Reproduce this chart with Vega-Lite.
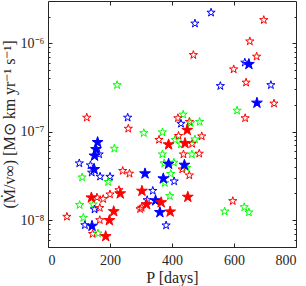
{
  "$schema": "https://vega.github.io/schema/vega-lite/v6.json",
  "width": 248,
  "height": 246,
  "autosize": {"type": "none"},
  "padding": {"left": 48, "top": 1, "right": 10, "bottom": 39},
  "background": "white",
  "config": {
    "view": {"stroke": "#262626", "strokeWidth": 1},
    "axis": {
      "domain": false, "grid": false,
      "labelFont": "Liberation Serif", "titleFont": "Liberation Serif",
      "labelFontSize": 14, "titleFontSize": 16,
      "labelColor": "#262626", "titleColor": "#262626",
      "titleFontWeight": "normal", "tickColor": "#262626", "tickWidth": 1
    }
  },
  "data": {"values": [
    {"p":526,"v":2.22e-6,"c":"b","f":0},{"p":474,"v":1.67e-6,"c":"b","f":0},{"p":696,"v":1.83e-6,"c":"r","f":0},
    {"p":651,"v":1.05e-6,"c":"r","f":0},{"p":469,"v":7.36e-7,"c":"r","f":0},{"p":635,"v":6.04e-7,"c":"b","f":0},
    {"p":673,"v":7.06e-7,"c":"r","f":0},{"p":599,"v":5.07e-7,"c":"r","f":0},{"p":639,"v":3.59e-7,"c":"r","f":0},
    {"p":556,"v":3.28e-7,"c":"b","f":0},{"p":719,"v":3.36e-7,"c":"b","f":0},{"p":729,"v":2.08e-7,"c":"r","f":0},
    {"p":610,"v":1.73e-7,"c":"g","f":0},{"p":636,"v":1.42e-7,"c":"r","f":0},{"p":223,"v":3.36e-7,"c":"g","f":0},
    {"p":125,"v":1.44e-7,"c":"r","f":0},{"p":257,"v":1.44e-7,"c":"b","f":0},{"p":259,"v":1.08e-7,"c":"r","f":0},
    {"p":309,"v":9.64e-8,"c":"g","f":0},{"p":436,"v":1.56e-7,"c":"g","f":0},{"p":419,"v":1.42e-7,"c":"r","f":0},
    {"p":429,"v":1.23e-7,"c":"b","f":0},{"p":456,"v":1.29e-7,"c":"r","f":0},{"p":460,"v":1.25e-7,"c":"g","f":0},
    {"p":489,"v":1.29e-7,"c":"g","f":0},{"p":369,"v":9.82e-8,"c":"g","f":0},{"p":358,"v":8.08e-8,"c":"r","f":0},
    {"p":410,"v":8.08e-8,"c":"g","f":0},{"p":421,"v":8.96e-8,"c":"r","f":0},{"p":429,"v":7.18e-8,"c":"g","f":0},
    {"p":465,"v":7.28e-8,"c":"r","f":0},{"p":474,"v":8.18e-8,"c":"g","f":0},{"p":496,"v":8.85e-8,"c":"r","f":0},
    {"p":369,"v":5.53e-8,"c":"g","f":0},{"p":437,"v":5.53e-8,"c":"r","f":0},{"p":464,"v":5.53e-8,"c":"g","f":0},
    {"p":488,"v":5.64e-8,"c":"r","f":0},{"p":375,"v":4.38e-8,"c":"g","f":0},{"p":406,"v":4.46e-8,"c":"g","f":0},
    {"p":447,"v":3.91e-8,"c":"g","f":0},{"p":433,"v":3.74e-8,"c":"r","f":0},{"p":456,"v":3.20e-8,"c":"r","f":0},
    {"p":396,"v":3.33e-8,"c":"g","f":0},{"p":377,"v":2.63e-8,"c":"g","f":0},{"p":407,"v":2.74e-8,"c":"b","f":0},
    {"p":338,"v":2.14e-8,"c":"b","f":0},{"p":393,"v":1.87e-8,"c":"g","f":0},{"p":320,"v":1.68e-8,"c":"b","f":0},
    {"p":302,"v":1.38e-8,"c":"r","f":0},{"p":381,"v":8.70e-9,"c":"b","f":0},{"p":596,"v":1.64e-8,"c":"r","f":0},
    {"p":570,"v":1.25e-8,"c":"g","f":0},{"p":633,"v":1.40e-8,"c":"g","f":0},{"p":648,"v":1.22e-8,"c":"g","f":0},
    {"p":214,"v":6.42e-8,"c":"g","f":0},{"p":165,"v":5.53e-8,"c":"b","f":0},{"p":101,"v":4.38e-8,"c":"b","f":0},
    {"p":137,"v":4.16e-8,"c":"b","f":0},{"p":141,"v":3.44e-8,"c":"b","f":0},{"p":110,"v":3.04e-8,"c":"g","f":0},
    {"p":168,"v":3.10e-8,"c":"b","f":0},{"p":200,"v":3.09e-8,"c":"b","f":0},{"p":194,"v":2.70e-8,"c":"g","f":0},
    {"p":241,"v":3.60e-8,"c":"r","f":0},{"p":263,"v":3.35e-8,"c":"r","f":0},{"p":229,"v":2.18e-8,"c":"r","f":0},
    {"p":158,"v":1.80e-8,"c":"r","f":0},{"p":178,"v":1.73e-8,"c":"r","f":0},{"p":200,"v":1.95e-8,"c":"r","f":0},
    {"p":102,"v":1.48e-8,"c":"g","f":0},{"p":146,"v":1.50e-8,"c":"g","f":0},{"p":150,"v":1.32e-8,"c":"b","f":0},
    {"p":167,"v":1.37e-8,"c":"r","f":0},{"p":297,"v":1.33e-8,"c":"r","f":0},{"p":61,"v":1.09e-8,"c":"r","f":0},
    {"p":114,"v":1.06e-8,"c":"g","f":0},{"p":167,"v":9.98e-9,"c":"r","f":0},{"p":119,"v":8.75e-9,"c":"b","f":0},
    {"p":144,"v":6.97e-9,"c":"r","f":0},{"p":161,"v":7.06e-9,"c":"g","f":0},
    {"p":648,"v":5.78e-7,"c":"b","f":1},{"p":674,"v":2.11e-7,"c":"b","f":1},{"p":449,"v":1.04e-7,"c":"r","f":1},
    {"p":389,"v":7.13e-8,"c":"r","f":1},{"p":442,"v":7.38e-8,"c":"r","f":1},{"p":389,"v":4.30e-8,"c":"b","f":1},
    {"p":440,"v":4.19e-8,"c":"b","f":1},{"p":313,"v":3.35e-8,"c":"b","f":1},{"p":372,"v":2.94e-8,"c":"b","f":1},
    {"p":303,"v":2.13e-8,"c":"r","f":1},{"p":451,"v":1.82e-8,"c":"r","f":1},{"p":347,"v":1.66e-8,"c":"b","f":1},
    {"p":365,"v":1.58e-8,"c":"r","f":1},{"p":318,"v":1.50e-8,"c":"r","f":1},{"p":361,"v":1.22e-8,"c":"b","f":1},
    {"p":394,"v":1.24e-8,"c":"r","f":1},{"p":160,"v":7.57e-8,"c":"b","f":1},{"p":155,"v":6.30e-8,"c":"b","f":1},
    {"p":150,"v":5.32e-8,"c":"b","f":1},{"p":149,"v":3.74e-8,"c":"b","f":1},{"p":233,"v":1.99e-8,"c":"r","f":1},
    {"p":140,"v":1.79e-8,"c":"r","f":1},{"p":212,"v":1.25e-8,"c":"r","f":1},{"p":198,"v":9.91e-9,"c":"r","f":1},
    {"p":142,"v":8.55e-9,"c":"b","f":1},{"p":186,"v":6.53e-9,"c":"r","f":1}
  ]},
  "resolve": {"axis": {"x": "independent", "y": "independent"}},
  "layer": [
    {
      "transform": [{"filter": "datum.f == 0"}],
      "mark": {"type": "point", "shape": "M0,-1L0.225,-0.309L0.951,-0.309L0.363,0.118L0.588,0.809L0,0.382L-0.588,0.809L-0.363,0.118L-0.951,-0.309L-0.225,-0.309Z", "filled": false, "size": 75, "strokeWidth": 1, "opacity": 1},
      "encoding": {
        "x": {"field": "p", "type": "quantitative", "scale": {"domain": [0, 800], "nice": false, "zero": false},
              "axis": {"orient": "bottom", "title": "P [days]", "values": [0, 200, 400, 600, 800], "tickSize": -4, "labelPadding": 10, "titlePadding": 2}},
        "y": {"field": "v", "type": "quantitative", "scale": {"type": "log", "domain": [4.95e-9, 3.0e-6], "nice": false},
              "axis": {"orient": "left", "title": "(Ṁ/v∞) [M⊙ km yr⁻¹ s⁻¹]", "values": [1e-8, 1e-7, 1e-6], "tickSize": -4, "labelPadding": 8, "titlePadding": 3,
                       "labelExpr": "datum.value < 5e-8 ? '10⁻⁸' : datum.value < 5e-7 ? '10⁻⁷' : '10⁻⁶'"}},
        "color": {"field": "c", "type": "nominal", "scale": {"domain": ["r", "g", "b"], "range": ["#ff0000", "#00ff00", "#0000ff"]}, "legend": null}
      }
    },
    {
      "transform": [{"filter": "datum.f == 1"}],
      "mark": {"type": "point", "shape": "M0,-1L0.225,-0.309L0.951,-0.309L0.363,0.118L0.588,0.809L0,0.382L-0.588,0.809L-0.363,0.118L-0.951,-0.309L-0.225,-0.309Z", "filled": true, "size": 130, "strokeWidth": 1, "opacity": 1},
      "encoding": {
        "x": {"field": "p", "type": "quantitative", "axis": {"orient": "top", "title": null, "labels": false, "values": [200, 400, 600], "tickSize": -4}},
        "y": {"field": "v", "type": "quantitative", "axis": {"orient": "right", "title": null, "labels": false, "values": [1e-8, 1e-7, 1e-6], "tickSize": -4}},
        "color": {"field": "c", "type": "nominal", "legend": null},
        "stroke": {"field": "c", "type": "nominal", "scale": {"domain": ["r", "g", "b"], "range": ["#ff0000", "#00ff00", "#0000ff"]}, "legend": null}
      }
    },
    {
      "mark": {"type": "point", "opacity": 0},
      "encoding": {
        "x": {"field": "p", "type": "quantitative", "axis": null},
        "y": {"field": "v", "type": "quantitative", "axis": {"orient": "left", "title": null, "labels": false, "tickSize": -2,
              "values": [5e-9, 6e-9, 7e-9, 8e-9, 9e-9, 2e-8, 3e-8, 4e-8, 5e-8, 6e-8, 7e-8, 8e-8, 9e-8, 2e-7, 3e-7, 4e-7, 5e-7, 6e-7, 7e-7, 8e-7, 9e-7, 2e-6]}}
      }
    },
    {
      "mark": {"type": "point", "opacity": 0},
      "encoding": {
        "x": {"field": "p", "type": "quantitative", "axis": null},
        "y": {"field": "v", "type": "quantitative", "axis": {"orient": "right", "title": null, "labels": false, "tickSize": -2,
              "values": [5e-9, 6e-9, 7e-9, 8e-9, 9e-9, 2e-8, 3e-8, 4e-8, 5e-8, 6e-8, 7e-8, 8e-8, 9e-8, 2e-7, 3e-7, 4e-7, 5e-7, 6e-7, 7e-7, 8e-7, 9e-7, 2e-6]}}
      }
    }
  ]
}
